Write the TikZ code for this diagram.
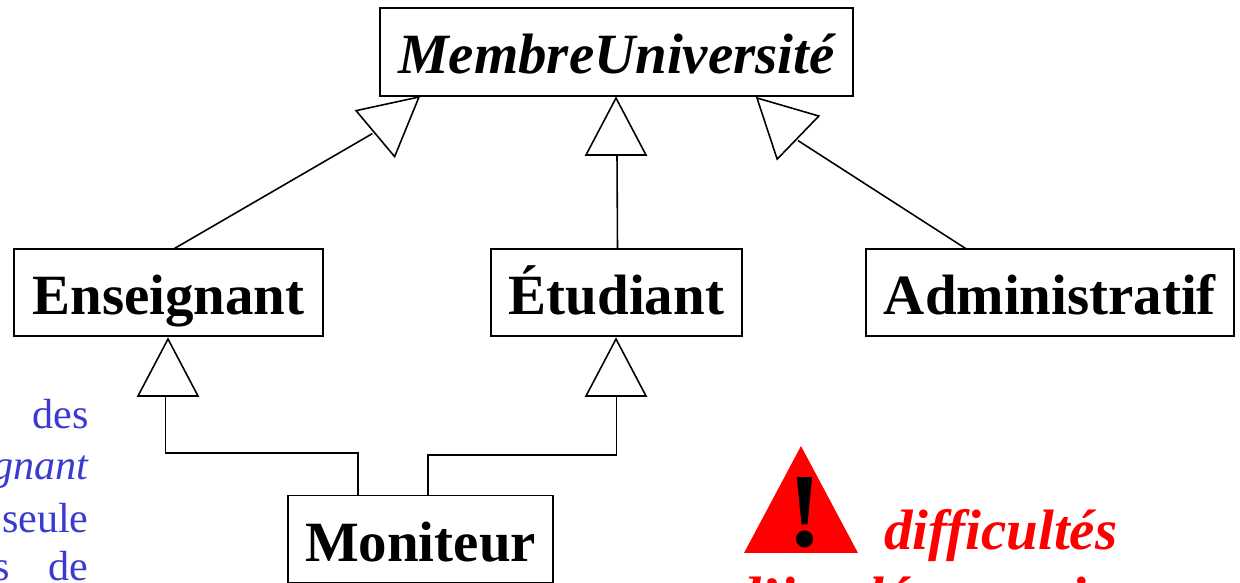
\documentclass[tikz,border=0pt]{standalone}
\usepackage{fontspec}
\setmainfont{Liberation Serif}
\usepackage{xcolor}
\usetikzlibrary{shapes.geometric, positioning}
\definecolor{textblue}{RGB}{58, 58, 208}
\begin{document}
\begin{tikzpicture}[
    x=0.02cm, y=-0.02cm,
    classbox/.style={rectangle, draw, line width=0.9pt, minimum height=1.75cm, inner sep=0pt, outer sep=0pt, text height=0.98cm, text depth=0.08cm, align=center, font=\fontsize{32.4}{36}\selectfont\bfseries},
    headopen/.style={isosceles triangle, isosceles triangle stretches, draw, line width=0.9pt, inner sep=0pt, outer sep=0pt, minimum width=1.2cm, minimum height=1.14cm, anchor=apex},
    link/.style={line width=0.9pt},
    bigred/.style={anchor=base west, inner sep=0pt, text=red, font=\fontsize{32.4}{36}\selectfont\bfseries\itshape},
    note/.style={anchor=base east, inner sep=0pt, text=textblue, font=\fontsize{24}{28}\selectfont}
]

\clip (0,0) rectangle (1240,582);
\useasboundingbox (0,0) rectangle (1240,582);

% Classes
\node[classbox, minimum width=9.46cm, text height=0.94cm, font=\fontsize{32.4}{36}\selectfont\bfseries\itshape] (membre) at (616.5,52) {MembreUniversité};

\node[classbox, minimum width=5.02cm, below=3.06cm of membre] (etudiant) {Étudiant};

\node[classbox, minimum width=6.18cm, left=3.36cm of etudiant] (enseignant) {Enseignant};

\node[classbox, minimum width=7.36cm, right=2.48cm of etudiant] (administratif) {Administratif};

\node[classbox, minimum width=5.3cm, minimum height=1.74cm, below=3.19cm of etudiant, xshift=-3.92cm] (moniteur) {Moniteur};

% Triangles
\node[headopen, rotate=40] (headens) at (419,97) {};
\node[headopen, rotate=90] (headetu) at (616,98) {};
\node[headopen, rotate=136] (headadm) at (757,98) {};
\node[headopen, rotate=90] (headlow) at (168,339) {};
\node[headopen, rotate=90] (headrig) at (616,339) {};

% Arrows
\draw[link] ([xshift=0.11cm]enseignant.north) -- ([xshift=-0.06cm]headens.lower side);
\draw[link] ([xshift=0.02cm]headetu.lower side) -- ([xshift=0.02cm]etudiant.north);
\draw[link] ([xshift=-1.68cm]administratif.north) -- ([yshift=-0.06cm]headadm.lower side);

\coordinate (lowa) at (165.5,453);
\coordinate (lowb) at (358,453);
\coordinate (lowc) at (428,455);
\coordinate (lowd) at (616.5,455);
\draw[link] (headlow.lower side -| lowa) -- (lowa) -- (lowb) -- (lowb |- moniteur.north);
\draw[link] (headrig.lower side -| lowd) -- (lowd) -- (lowc) -- (lowc |- moniteur.north);

% Warning
\node[isosceles triangle, isosceles triangle stretches, rotate=90, fill=red, inner sep=0pt, outer sep=0pt, minimum width=2.28cm, minimum height=2.14cm, anchor=apex] (warning) at (801,446) {};
\node[anchor=base, inner sep=0pt, font=\fontsize{60}{66}\selectfont\bfseries] (bang) at (805,546) {!};
\node[bigred] (difficultes) at (884,549) {difficultés};
\node[bigred] (implem) at (732,616) {d'implémentation};

% Clipped paragraph
\node[note] (des) at (89,428) {des};
\node[note, font=\fontsize{24}{28}\selectfont\itshape] (gnant) at (89,479) {gnant};
\node[note] (seule) at (89,532) {seule};
\node[note] (de) at (89,580) {de};
\node[note] (lastword) at (10,580) {s};

\end{tikzpicture}
\end{document}
